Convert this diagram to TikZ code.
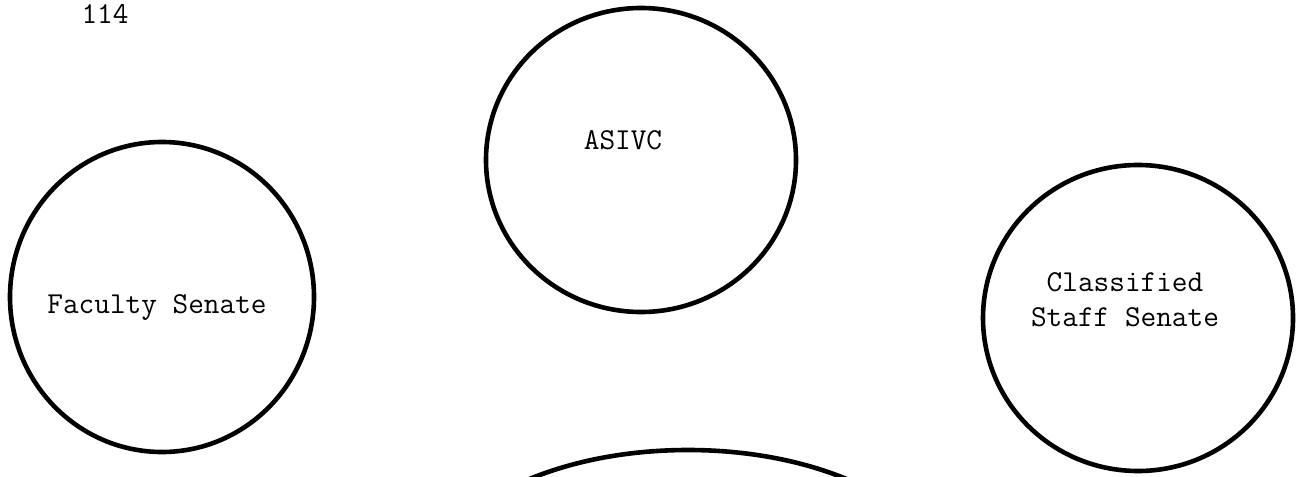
\documentclass[tikz,border=0pt]{standalone}
\usepackage{fontspec}
\usepackage{tikz}
\usetikzlibrary{shapes,positioning}

\begin{document}
\begin{tikzpicture}[
    x=0.5pt, y=-0.5pt,
    senate/.style={ellipse, draw, line width=2.3pt, inner sep=0pt},
    circlabel/.style={font=\ttfamily\fontsize{15.2}{17.5}\selectfont, align=center, inner sep=0pt}
]
\useasboundingbox (0,0) rectangle (1299,476);

% Page number
\node[circlabel, anchor=north] (pageno) at (105,4) {114};

% Circles
\node[senate, minimum width=155pt, minimum height=152pt] (asivc) at (641,160) {};
\node[senate, minimum width=152pt, minimum height=155pt] (faculty) at (162,297) {};
\node[senate, minimum width=155pt, minimum height=153pt] (staff) at (1138,318) {};
\node[senate, minimum width=260pt, minimum height=140pt] (bottom) at (688,590) {};

% Labels
\node[circlabel] (asivc_txt) at (623,140) {ASIVC};
\node[circlabel] (faculty_txt) at (157,307) {Faculty Senate};
\node[circlabel] (staff_txt) at (1125,300) {Classified\\Staff Senate};

\end{tikzpicture}
\end{document}
